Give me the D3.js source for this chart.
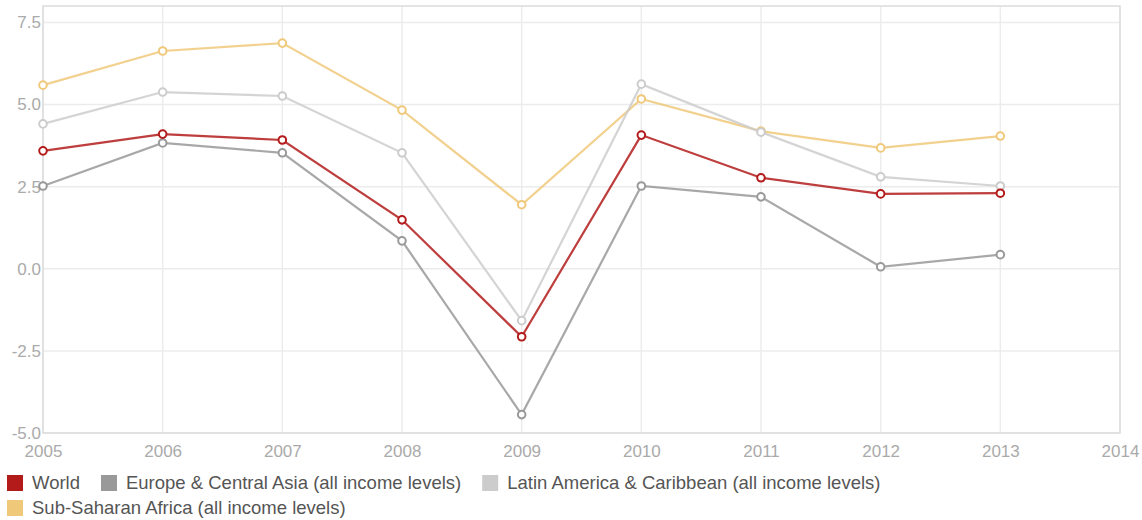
<!DOCTYPE html>
<html>
<head>
<meta charset="utf-8">
<script src="https://cdn.jsdelivr.net/npm/d3@7"></script>
<style>
  body { margin: 0; background: #fff; font-family: "Liberation Sans", Arial, sans-serif; }
  .tick text { fill: #aaa; font-size: 17px; }
  .legend text { fill: #555; font-size: 18.5px; }
</style>
</head>
<body>
<script>
// data
var years = [2005, 2006, 2007, 2008, 2009, 2010, 2011, 2012, 2013];
var world = [3.59, 4.10, 3.92, 1.49, -2.07, 4.07, 2.77, 2.28, 2.30];
var europe = [2.52, 3.83, 3.53, 0.85, -4.44, 2.52, 2.19, 0.06, 0.43];
var latam = [4.41, 5.38, 5.26, 3.53, -1.58, 5.62, 4.16, 2.80, 2.52];
var ssa = [5.59, 6.63, 6.87, 4.83, 1.95, 5.17, 4.19, 3.68, 4.04];
var seriesNames = ["World", "Europe & Central Asia (all income levels)",
  "Latin America & Caribbean (all income levels)", "Sub-Saharan Africa (all income levels)"];
var seriesColors = ["#b31b1b", "#999999", "#cccccc", "#f0c87a"];
var yTicks = [-5.0, -2.5, 0.0, 2.5, 5.0, 7.5];
var xTicks = [2005, 2006, 2007, 2008, 2009, 2010, 2011, 2012, 2013, 2014];

var series = [world, europe, latam, ssa].map(function(vals, i) {
  return { name: seriesNames[i], color: seriesColors[i],
    values: vals.map(function(v, j) { return { year: years[j], value: v }; }) };
});

var W = 1142, H = 520;
var margin = { left: 43, right: 22, top: 6, bottom: 87 };

var svg = d3.select("body").append("svg")
  .attr("width", W).attr("height", H);

var x = d3.scaleLinear().domain([2005, 2014]).range([margin.left, W - margin.right]);
var y = d3.scaleLinear().domain([-5, 8]).range([H - margin.bottom, margin.top]);

// grid
var grid = svg.append("g");
grid.selectAll(".vg").data(xTicks).enter().append("line")
  .attr("x1", function(d) { return x(d); }).attr("x2", function(d) { return x(d); })
  .attr("y1", y(8)).attr("y2", y(-5))
  .attr("stroke", "#ececec").attr("stroke-width", 1.5);
grid.selectAll(".hg").data(yTicks).enter().append("line")
  .attr("x1", x(2005)).attr("x2", x(2014))
  .attr("y1", function(d) { return y(d); }).attr("y2", function(d) { return y(d); })
  .attr("stroke", "#ececec").attr("stroke-width", 1.5);
grid.append("rect")
  .attr("x", x(2005)).attr("y", y(8))
  .attr("width", x(2014) - x(2005)).attr("height", y(-5) - y(8))
  .attr("fill", "none").attr("stroke", "#dcdcdc").attr("stroke-width", 1.5);

// axes
svg.append("g")
  .attr("transform", "translate(0," + (H - margin.bottom) + ")")
  .call(d3.axisBottom(x).tickValues(xTicks).tickFormat(d3.format("d")).tickSize(0).tickPadding(12))
  .call(function(g) { g.select(".domain").remove(); });

// plain hyphen for negatives, like the original
svg.append("g")
  .attr("transform", "translate(" + (margin.left - 2) + ",0)")
  .call(d3.axisLeft(y).tickValues(yTicks).tickFormat(function(d) { return d.toFixed(1); })
    .tickSize(0).tickPadding(0))
  .call(function(g) { g.select(".domain").remove(); });

// lines
var line = d3.line()
  .x(function(d) { return x(d.year); })
  .y(function(d) { return y(d.value); });

var groups = svg.selectAll(".series")
  .data(series.slice().reverse())
  .enter().append("g").attr("class", "series");

groups.append("path")
  .attr("d", function(d) { return line(d.values); })
  .attr("fill", "none")
  .attr("stroke", function(d) { return d.color; })
  .attr("stroke-opacity", 0.85)
  .attr("stroke-width", 2.2);

groups.selectAll("circle")
  .data(function(d) { return d.values.map(function(v) { return { v: v, color: d.color }; }); })
  .enter().append("circle")
  .attr("cx", function(d) { return x(d.v.year); })
  .attr("cy", function(d) { return y(d.v.value); })
  .attr("r", 3.8)
  .attr("fill", "#fff")
  .attr("stroke", function(d) { return d.color; })
  .attr("stroke-width", 2);

// legend, wrapping items across rows
var legend = svg.append("g").attr("class", "legend");
var lx = 7, ly = 475, rowH = 25;
series.forEach(function(s) {
  var item = legend.append("g");
  item.append("rect").attr("width", 16).attr("height", 16).attr("fill", s.color);
  var t = item.append("text").attr("x", 25).attr("y", 14).text(s.name);
  var w = 25 + t.node().getComputedTextLength();
  if (lx + w > W - 20) { lx = 7; ly += rowH; }
  item.attr("transform", "translate(" + lx + "," + ly + ")");
  lx += w + 21;
});
</script>
</body>
</html>
